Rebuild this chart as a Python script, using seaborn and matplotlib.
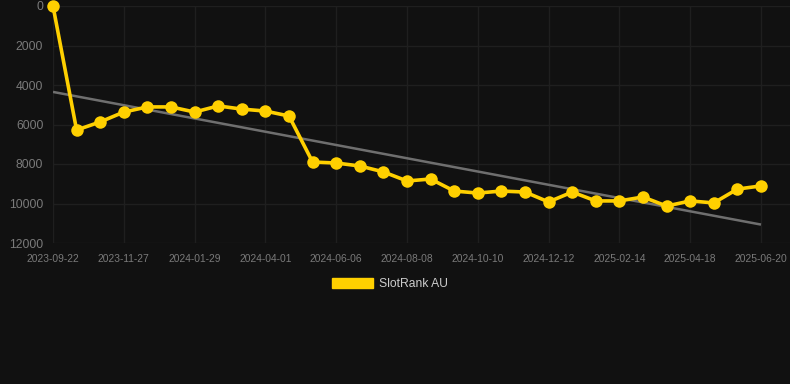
import numpy as np
import pandas as pd
import matplotlib
matplotlib.use("Agg")
import matplotlib.pyplot as plt
import seaborn as sns
from matplotlib.patches import Patch

# ---- data ----
ranks = [0, 6280, 5870, 5370, 5110, 5110, 5370, 5060, 5220, 5320, 5570,
         7900, 7950, 8100, 8400, 8860, 8760, 9370, 9470, 9370, 9420,
         9920, 9420, 9870, 9870, 9670, 10130, 9870, 9970, 9270, 9110]
tick_labels = ["2023-09-22", "2023-11-27", "2024-01-29", "2024-04-01",
               "2024-06-06", "2024-08-08", "2024-10-10", "2024-12-12",
               "2025-02-14", "2025-04-18", "2025-06-20"]
y_ticks = [0, 2000, 4000, 6000, 8000, 10000, 12000]
series_name = "SlotRank AU"

idx = np.arange(len(ranks))
df = pd.DataFrame({"i": idx, "rank": ranks})

# trend line (least squares)
coef = np.polyfit(idx, ranks, 1)
trend = np.polyval(coef, idx)

BG = "#111111"
GOLD = "#FFD000"
GRID = "#1f1f1f"
TXT = "#7a7a7a"

sns.set_theme(style="dark")
plt.rcParams["font.family"] = ["Liberation Sans", "DejaVu Sans"]

fig = plt.figure(figsize=(7.9, 3.84), dpi=100, facecolor=BG)
W, H = 790, 384
ax = fig.add_axes([53 / W, 1 - 243 / H, 1 - 53 / W, (243 - 6) / H])
ax.set_facecolor(BG)

ax.plot(idx, trend, color="#6f6f6f", lw=1.8, zorder=2, solid_capstyle="butt")
sns.lineplot(data=df, x="i", y="rank", ax=ax, color=GOLD, lw=2.6,
             marker="o", markersize=9, markeredgewidth=0,
             zorder=3, clip_on=False, legend=False)

ax.set_xlim(0, 30 * (790 - 53) / (761 - 53))
ax.set_ylim(12000, 0)
ax.set_xticks(idx[::3])
ax.set_xticklabels(tick_labels)
ax.set_yticks(y_ticks)
ax.set_yticklabels([str(v) for v in y_ticks])
ax.set_xlabel("")
ax.set_ylabel("")

ax.grid(True, color=GRID, lw=1.0)
for s in ax.spines.values():
    s.set_visible(False)
ax.tick_params(axis="x", colors=TXT, labelsize=7.4, length=4, width=0.8,
               pad=4, color=GRID)
ax.tick_params(axis="y", colors=TXT, labelsize=8.7, length=0, pad=7)
for lab in ax.get_xticklabels():
    lab.set_color(TXT)
for lab in ax.get_yticklabels():
    lab.set_color(TXT)

handle = Patch(facecolor=GOLD, edgecolor=GOLD)
fig.legend([handle], [series_name], loc="center", bbox_to_anchor=(390 / W, 1 - 284 / H),
           frameon=False, fontsize=8.7, labelcolor="#cccccc",
           handlelength=3.4, handleheight=0.95, handletextpad=0.55)

fig.savefig("out.png", dpi=100, facecolor=BG)
